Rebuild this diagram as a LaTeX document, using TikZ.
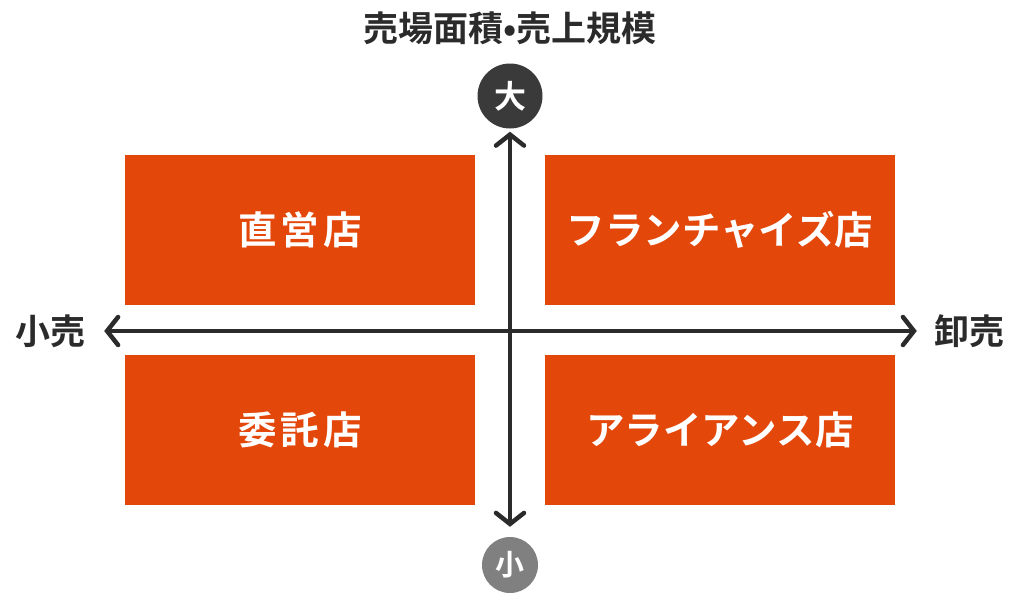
\documentclass[tikz,border=0pt]{standalone}
\usepackage{fontspec}
\usepackage{xcolor}
\usepackage{tikz}
\usetikzlibrary{arrows.meta}
\newfontfamily\jpfont{Noto Sans CJK JP}[BoldFont={Noto Sans CJK JP Bold}]
\definecolor{shopred}{RGB}{227,71,10}
\definecolor{axisgray}{RGB}{43,43,43}
\definecolor{bigdot}{RGB}{58,58,58}
\definecolor{smalldot}{RGB}{128,128,128}

\begin{document}
\begin{tikzpicture}[x=1pt, y=-1pt,
	shopbox/.style={rectangle, minimum width=350pt, minimum height=150pt, fill=shopred, text=white, inner sep=0pt, font=\jpfont\bfseries\fontsize{38.5}{38.5}\selectfont},
	axislabel/.style={inner sep=0pt, text=axisgray, font=\jpfont\bfseries\fontsize{35}{35}\selectfont},
	scaledot/.style={circle, inner sep=0pt, text=white, font=\jpfont\bfseries\fontsize{32}{32}\selectfont},
	axis/.style={draw=axisgray, line width=4.5pt, {Straight Barb[length=11pt, width=28pt, line cap=round]}-{Straight Barb[length=11pt, width=28pt, line cap=round]}}]
	\useasboundingbox (0,0) rectangle (1019,603);
	% quadrants
	\node[shopbox] at (300,230)(direct){直\hspace{4pt}営\hspace{4pt}店};
	\node[shopbox] at (720,230)(franchise){フランチャイズ店};
	\node[shopbox] at (300,430)(consign){委\hspace{4pt}託\hspace{4pt}店};
	\node[shopbox] at (720,430)(alliance){アライアンス店};
	% axes
	\node[axislabel] at (510,28)(scale){売場面積•売上規模};
	\node[scaledot, minimum size=65pt, fill=bigdot] at (510,96)(big){大};
	\node[scaledot, minimum size=56pt, fill=smalldot, font=\jpfont\bfseries\fontsize{29}{29}\selectfont] at (510,565)(small){小};
	\node[axislabel] at (50,331)(retail){小売};
	\node[axislabel] at (969,331)(wholesale){卸売};
	\draw[axis, shorten <=3pt, shorten >=10pt](big) -- (small);
	\draw[axis, shorten <=19pt, shorten >=17pt](retail.east) -- (wholesale.west);
\end{tikzpicture}
\end{document}
